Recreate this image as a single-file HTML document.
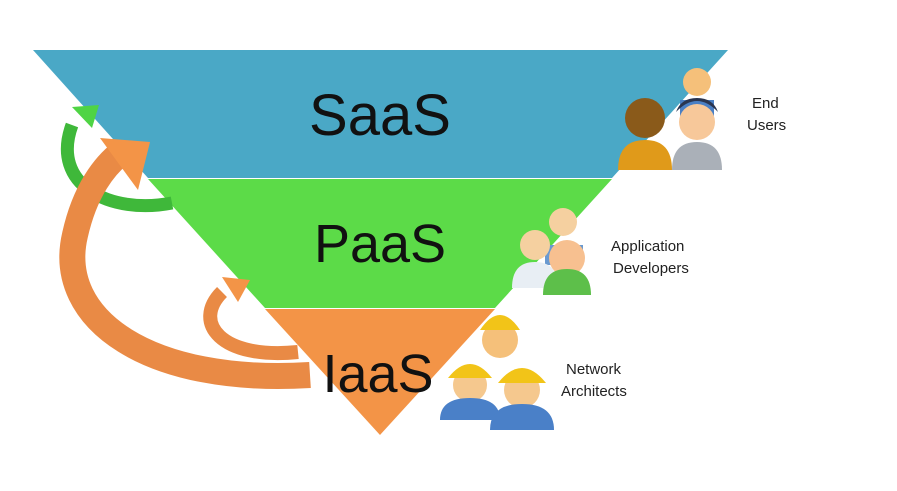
<!DOCTYPE html>
<html><head><style>
body{margin:0;background:#fff;}
svg{display:block;}
text{font-family:"Liberation Sans",sans-serif;}
</style></head><body>
<svg width="897" height="491" viewBox="0 0 897 491" xmlns="http://www.w3.org/2000/svg">
<polygon points="33,50 728,50 612,178 148,178" fill="#4aa8c6"/>
<polygon points="148,179 612,179 495,308 265,308" fill="#5cdb48"/>
<polygon points="265,309 495,309 380,435" fill="#f39447"/>
<text x="380" y="135" font-size="58" text-anchor="middle" fill="#111">SaaS</text>
<text x="380" y="262" font-size="54" text-anchor="middle" fill="#111">PaaS</text>
<text x="378" y="392" font-size="54" text-anchor="middle" fill="#111">IaaS</text>
<!-- green arrow -->
<path d="M172,203 C110,215 50,185 72,125" fill="none" stroke="#3fb83a" stroke-width="13"/>
<polygon points="72,107 99,105 92,128" fill="#4fd444"/>
<!-- big orange arrow -->
<path d="M310,375 C150,385 55,320 75,235 C85,190 105,165 122,152" fill="none" stroke="#e98a45" stroke-width="26"/>
<polygon points="100,138 150,142 138,190" fill="#f39447"/>
<!-- small orange arrow -->
<path d="M298,352 C220,360 192,322 222,292" fill="none" stroke="#e98a45" stroke-width="14"/>
<polygon points="222,277 250,280 238,302" fill="#f39447"/>
<!-- End users -->
<circle cx="697" cy="82" r="14" fill="#f5c07a"/><path d="M680,100 h34 v20 h-34z" fill="#4a7fc4"/>
<circle cx="645" cy="118" r="20" fill="#8a5a1a"/><path d="M618,170 q0,-30 27,-30 q27,0 27,30z" fill="#e09a1a"/>
<circle cx="697" cy="122" r="18" fill="#f7c89a"/><path d="M672,170 q0,-28 25,-28 q25,0 25,28z" fill="#aab0b8"/>
<path d="M676,112 q21,-22 42,0 q-5,-14 -21,-14 q-16,0 -21,14z" fill="#2a3550"/>
<text x="752" y="108" font-size="15" fill="#222">End</text>
<text x="747" y="130" font-size="15" fill="#222">Users</text>
<!-- Developers -->
<circle cx="563" cy="222" r="14" fill="#f5d0a0"/><path d="M545,245 h38 v20 h-38z" fill="#6a9ad0"/>
<circle cx="535" cy="245" r="15" fill="#f5d0a0"/><path d="M512,288 q0,-26 23,-26 q23,0 23,26z" fill="#e8eef4"/>
<circle cx="567" cy="258" r="18" fill="#f7c090"/><path d="M543,295 q0,-26 24,-26 q24,0 24,26z" fill="#5dbf4a"/>
<text x="611" y="251" font-size="15" fill="#222">Application</text>
<text x="613" y="273" font-size="15" fill="#222">Developers</text>
<!-- Network architects -->
<circle cx="500" cy="340" r="18" fill="#f5c07a"/><path d="M480,330 q20,-30 40,0z" fill="#f2c418"/>
<circle cx="470" cy="385" r="17" fill="#f5c88e"/><path d="M448,378 q22,-28 44,0z" fill="#f2c418"/>
<path d="M440,420 q0,-22 30,-22 q30,0 30,22z" fill="#4a80c8"/>
<circle cx="522" cy="390" r="18" fill="#f5c88e"/><path d="M498,383 q24,-30 48,0z" fill="#f2c418"/>
<path d="M490,430 q0,-26 32,-26 q32,0 32,26z" fill="#4a80c8"/>
<text x="566" y="374" font-size="15" fill="#222">Network</text>
<text x="561" y="396" font-size="15" fill="#222">Architects</text>
</svg>
</body></html>
